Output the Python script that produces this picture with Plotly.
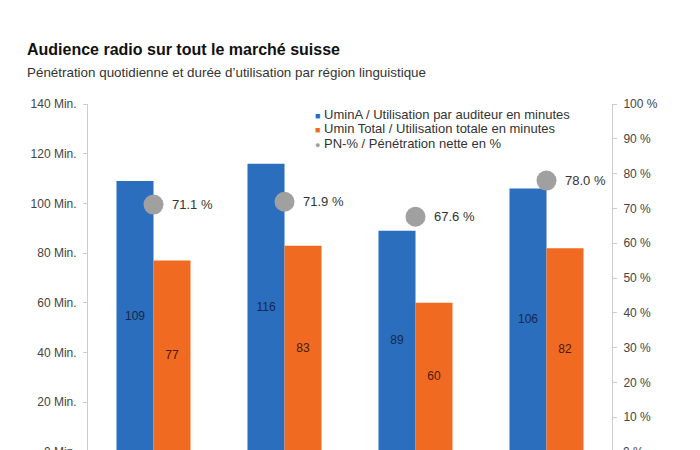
import plotly.graph_objects as go

categories = ["Région 1", "Région 2", "Région 3", "Région 4"]
umina = [109, 116, 89, 106]
umin_total = [77, 83, 60, 82]
pn_pct = [71.1, 71.9, 67.6, 78.0]
left_ticks = [20, 40, 60, 80, 100, 120, 140]
right_ticks = [10, 20, 30, 40, 50, 60, 70, 80, 90, 100]

BLUE = "#2a6ebd"
ORANGE = "#f06a22"
GRAY = "#a0a0a0"
FONT = "Liberation Sans"

fig = go.Figure()
fig.add_trace(go.Bar(
    x=categories, y=umina, name="UminA / Utilisation par auditeur en minutes",
    marker=dict(color=BLUE, line=dict(width=0)), showlegend=False,
    textposition="none",
))
fig.add_trace(go.Bar(
    x=categories, y=umin_total, name="Umin Total / Utilisation totale en minutes",
    marker=dict(color=ORANGE, line=dict(width=0)), showlegend=False,
    textposition="none",
))
# value labels centred in bars (at half of each value)
fig.add_trace(go.Scatter(
    x=categories, y=[v / 2 for v in umina], mode="text",
    text=[str(v) for v in umina], textposition="middle center",
    textfont=dict(family=FONT, size=12, color="#16284a"),
    showlegend=False, hoverinfo="skip", xaxis="x3",
))
fig.add_trace(go.Scatter(
    x=categories, y=[v / 2 for v in umin_total], mode="text",
    text=[str(v) for v in umin_total], textposition="middle center",
    textfont=dict(family=FONT, size=12, color="#4a1a05"),
    showlegend=False, hoverinfo="skip", xaxis="x4",
))
fig.add_trace(go.Scatter(
    x=categories, y=pn_pct, yaxis="y2", mode="markers",
    name="PN-% / Pénétration nette en %",
    marker=dict(color=GRAY, size=20, line=dict(width=0)),
    showlegend=False,
))
for c, v in zip(categories, pn_pct):
    fig.add_annotation(x=c, y=v, xref="x", yref="y2", text=f"{v:.1f} %",
                       showarrow=False, xanchor="left", yanchor="middle",
                       xshift=16, font=dict(family=FONT, size=13, color="#333"))

y0 = 140 * 2 / 348
fig.update_layout(
    width=700, height=450,
    margin=dict(l=88, r=88, t=104, b=0),
    paper_bgcolor="white", plot_bgcolor="white",
    font=dict(family=FONT, size=12, color="#333"),
    barmode="group", bargap=0.435, bargroupgap=0,
    xaxis=dict(showticklabels=False, showline=False, ticks="", showgrid=False,
               zeroline=False),
    xaxis3=dict(overlaying="x", showticklabels=False, showgrid=False,
                zeroline=False, visible=False, range=[-0.5 + 0.1412, 3.5 + 0.1412]),
    xaxis4=dict(overlaying="x", showticklabels=False, showgrid=False,
                zeroline=False, visible=False, range=[-0.5 - 0.1412, 3.5 - 0.1412]),
    yaxis=dict(range=[y0, 140], tickvals=left_ticks,
               ticktext=[f"{t} Min." for t in left_ticks],
               showgrid=False, zeroline=False, showline=True, linecolor="#cccccc",
               linewidth=1, ticks="outside", ticklen=4, tickcolor="#cccccc",
               tickfont=dict(family=FONT, size=12, color="#444"),
               ticklabelstandoff=4),
    yaxis2=dict(range=[y0 * 100 / 140, 100], overlaying="y", side="right",
                tickvals=right_ticks, ticktext=[f"{t} %" for t in right_ticks],
                showgrid=False, zeroline=False, showline=True, linecolor="#cccccc",
                linewidth=1, ticks="outside", ticklen=4, tickcolor="#cccccc",
                tickfont=dict(family=FONT, size=12, color="#444"),
                ticklabelstandoff=4),
)

# Cut-off zero labels at the bottom edge (value 0 lies just below the visible area)
zero_paper = (0 - y0) / (140 - y0)
fig.add_annotation(x=0, xref="paper", xanchor="right", xshift=-9, y=zero_paper,
                   yref="paper", yanchor="middle", text="0 Min.", showarrow=False,
                   font=dict(family=FONT, size=12, color="#444"))
fig.add_annotation(x=1, xref="paper", xanchor="left", xshift=9, y=zero_paper,
                   yref="paper", yanchor="middle", text="0 %", showarrow=False,
                   font=dict(family=FONT, size=12, color="#444"))

# Title and subtitle
fig.add_annotation(x=(25 - 88) / 524, xref="paper", xanchor="left",
                   y=(450 - 50) / 346, yref="paper", yanchor="middle",
                   text="<b>Audience radio sur tout le marché suisse</b>", showarrow=False,
                   font=dict(family=FONT, size=16, color="#111"))
fig.add_annotation(x=(25 - 88) / 524, xref="paper", xanchor="left",
                   y=(450 - 72) / 346, yref="paper", yanchor="middle",
                   text="Pénétration quotidienne et durée d’utilisation par région linguistique",
                   showarrow=False, font=dict(family=FONT, size=13.4, color="#333"))

# Custom legend
legend_items = [
    (BLUE, "■", "UminA / Utilisation par auditeur en minutes"),
    (ORANGE, "■", "Umin Total / Utilisation totale en minutes"),
    (GRAY, "●", "PN-% / Pénétration nette en %"),
]
for i, (col, sym, label) in enumerate(legend_items):
    ypx = 114 + i * 14.5
    fig.add_annotation(x=(313 - 88) / 524, xref="paper", xanchor="left",
                       y=(450 - ypx) / 346, yref="paper", yanchor="middle",
                       text=f'<span style="color:{col};font-size:9px">{sym}</span> {label}',
                       showarrow=False, font=dict(family=FONT, size=13, color="#333"))

fig.write_html("out.html", config={"displayModeBar": False},
               post_script="document.body.style.margin='0';")
